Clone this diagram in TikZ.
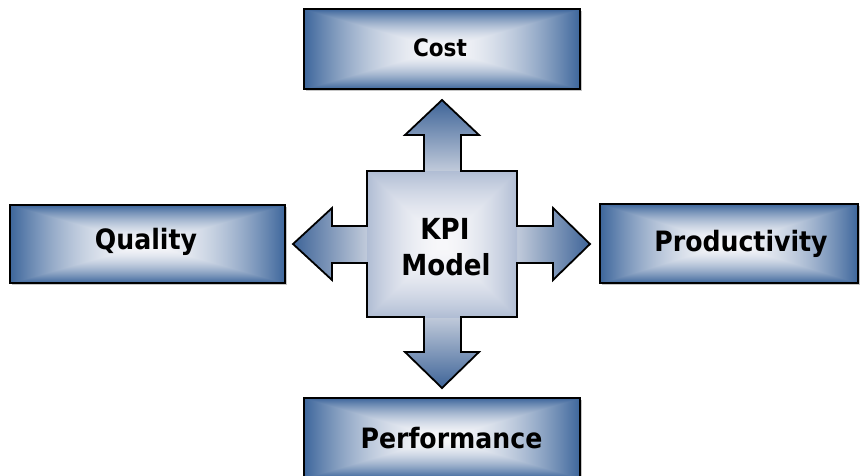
\documentclass[tikz,border=0pt]{standalone}
\usepackage{fontspec}
\usetikzlibrary{shadows}
\newfontfamily\lblfont{DejaVu Sans Condensed Bold}

% Rectangular gradient: blue rim fading to white at the centre
% (TikZ fits the path to the middle 50bp of the 100bp shading square)
\pgfdeclarefunctionalshading{boxgrad}{\pgfpointorigin}{\pgfpoint{100bp}{100bp}}{}{%
  50 sub abs exch 50 sub abs 2 copy lt {exch} if pop 25 div 1 2 copy gt {exch} if pop
  dup sqrt dup sqrt mul mul
  dup 0.73 mul 0.97 exch sub exch dup 0.57 mul 0.97 exch sub exch 0.37 mul 0.98 exch sub}

% Rectangular gradient for the hub square: grey-blue rim, near-white centre
\pgfdeclarefunctionalshading{hubgrad}{\pgfpointorigin}{\pgfpoint{100bp}{100bp}}{}{%
  50 sub abs exch 50 sub abs 2 copy lt {exch} if pop 25 div 1 2 copy gt {exch} if pop
  dup sqrt dup sqrt mul mul
  dup 0.28 mul 0.97 exch sub exch dup 0.23 mul 0.97 exch sub exch 0.15 mul 0.98 exch sub}

\definecolor{arrowdark}{RGB}{62,100,152}
\definecolor{arrowlight}{RGB}{200,208,222}

\tikzset{
  kbox/.style={rectangle, draw=black, line width=1.8pt, shading=boxgrad,
    drop shadow={shadow xshift=2pt, shadow yshift=-2pt, fill=gray!45, opacity=1},
    inner sep=0pt},
  lbl/.style={anchor=base, inner sep=0pt, text=black},
  arrowbody/.style={shading=axis},
  outline/.style={draw=black, line width=1.8pt, line join=miter},
}

\begin{document}
\begin{tikzpicture}[x=1pt,y=-1pt]
\clip (0,0) rectangle (866,475);
\fill[white] (0,0) rectangle (866,475);

% four category boxes
\node[kbox, minimum width=276pt, minimum height=80pt] (cost) at (442,49) {};
\node[kbox, minimum width=275pt, minimum height=78pt] (quality) at (147.5,244) {};
\node[kbox, minimum width=258pt, minimum height=79pt] (productivity) at (729,243.5) {};
\node[kbox, minimum width=276pt, minimum height=80pt] (performance) at (442,438) {};

\node[lbl, font=\lblfont\fontsize{24}{29}\selectfont] (costlbl) at (440,56) {Cost};
\node[lbl, font=\lblfont\fontsize{28}{34}\selectfont] (qualitylbl) at (146,249) {Quality};
\node[lbl, font=\lblfont\fontsize{28}{34}\selectfont] (productivitylbl) at (741,251.5) {Productivity};
\node[lbl, font=\lblfont\fontsize{28}{34}\selectfont] (performancelbl) at (451.5,448) {Performance};

% four-way arrow around the hub
\path[arrowbody, top color=arrowdark, bottom color=arrowlight]
  (424,175) -- (424,135) -- (405,135) -- (442,100) -- (479,135) -- (461,135) -- (461,175) -- cycle;
\path[arrowbody, top color=arrowlight, bottom color=arrowdark]
  (424,313) -- (424,352) -- (405,352) -- (442,388) -- (479,352) -- (461,352) -- (461,313) -- cycle;
\path[arrowbody, left color=arrowdark, right color=arrowlight]
  (371,226) -- (332,226) -- (332,208) -- (293,244) -- (332,280) -- (332,263) -- (371,263) -- cycle;
\path[arrowbody, left color=arrowlight, right color=arrowdark]
  (513,226) -- (553,226) -- (553,208) -- (590,244) -- (553,280) -- (553,263) -- (513,263) -- cycle;
\path[shading=hubgrad] (367,171) rectangle (517,317);

\draw[outline]
  (367,171) -- (424,171) -- (424,135) -- (405,135) -- (442,100) -- (479,135)
  -- (461,135) -- (461,171) -- (517,171) -- (517,226) -- (553,226) -- (553,208)
  -- (590,244) -- (553,280) -- (553,263) -- (517,263) -- (517,317) -- (461,317)
  -- (461,352) -- (479,352) -- (442,388) -- (405,352) -- (424,352) -- (424,317)
  -- (367,317) -- (367,263) -- (332,263) -- (332,280) -- (293,244) -- (332,208)
  -- (332,226) -- (367,226) -- cycle;

\node[lbl, font=\lblfont\fontsize{29}{35}\selectfont] (kpi) at (445,239) {KPI};
\node[lbl, font=\lblfont\fontsize{29}{35}\selectfont] (model) at (446,275.5) {Model};
\end{tikzpicture}
\end{document}
